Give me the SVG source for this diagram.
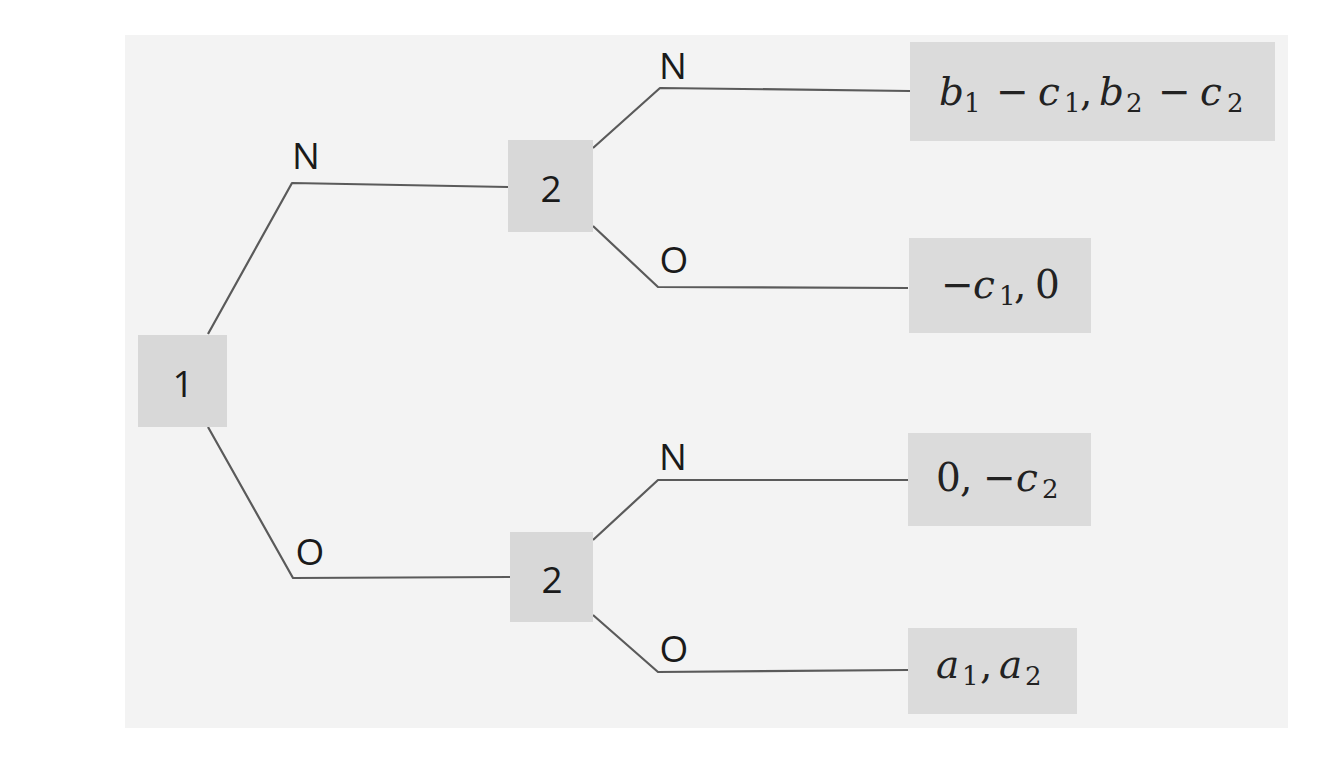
<svg xmlns="http://www.w3.org/2000/svg" width="1334" height="761" viewBox="0 0 1334 761">
<style>
.paper{fill:#f3f3f3}
.node{fill:#d8d8d8}
.pay{fill:#dbdbdb}
.edge{fill:none;stroke:#5a5a5a;stroke-width:2.2;stroke-linejoin:round}
.lbl{font-family:"Open Sans","Noto Sans",sans-serif;font-size:37px;fill:#1a1a1a;text-anchor:middle}
.math{font-family:"DejaVu Serif","Liberation Serif",serif;font-size:39px;fill:#222222}
.v{font-style:italic}
.s{font-size:26px}
</style>
<rect width="1334" height="761" fill="#ffffff"/>
<rect class="paper" x="125" y="35" width="1163" height="693"/>
<g id="connectors">
<polyline class="edge" points="208,334 292,183 508,187"/>
<polyline class="edge" points="208,427 293,578 510,577"/>
<polyline class="edge" points="593,148 660,88 910,91"/>
<polyline class="edge" points="593,226 658,287 908,288"/>
<polyline class="edge" points="593,540 658,480 908,480"/>
<polyline class="edge" points="593,615 658,672 908,670"/>
</g>
<g id="edge-labels">
<text class="lbl" x="306" y="169">N</text>
<text class="lbl" x="310" y="565">O</text>
<text class="lbl" x="673" y="79">N</text>
<text class="lbl" x="674" y="273">O</text>
<text class="lbl" x="673" y="470">N</text>
<text class="lbl" x="674" y="662">O</text>
</g>
<g id="node-1">
<rect class="node" x="138" y="335" width="89" height="92"/>
<text class="lbl" x="183" y="397">1</text>
</g>
<g id="node-2-top">
<rect class="node" x="508" y="140" width="85" height="92"/>
<text class="lbl" x="551" y="202">2</text>
</g>
<g id="node-2-bottom">
<rect class="node" x="510" y="532" width="83" height="90"/>
<text class="lbl" x="552" y="593">2</text>
</g>
<g id="payoff-NN">
<rect class="pay" x="910" y="42" width="365" height="99"/>
<text class="math" y="105"><tspan class="v" x="939">b</tspan><tspan class="s" x="964" y="112">1</tspan><tspan x="996" y="105">−</tspan><tspan class="v" x="1038">c</tspan><tspan class="s" x="1064" y="112">1</tspan><tspan x="1080" y="105">,</tspan><tspan class="v" x="1099">b</tspan><tspan class="s" x="1126" y="112">2</tspan><tspan x="1158" y="105">−</tspan><tspan class="v" x="1200">c</tspan><tspan class="s" x="1227" y="112">2</tspan></text>
</g>
<g id="payoff-NO">
<rect class="pay" x="909" y="238" width="182" height="95"/>
<text class="math" y="298"><tspan x="941">−</tspan><tspan class="v" x="973">c</tspan><tspan class="s" x="999" y="305">1</tspan><tspan x="1014" y="298">,</tspan><tspan x="1035">0</tspan></text>
</g>
<g id="payoff-ON">
<rect class="pay" x="908" y="433" width="183" height="93"/>
<text class="math" y="491"><tspan x="936">0</tspan><tspan x="960">,</tspan><tspan x="983">−</tspan><tspan class="v" x="1016">c</tspan><tspan class="s" x="1042" y="498">2</tspan></text>
</g>
<g id="payoff-OO">
<rect class="pay" x="908" y="628" width="169" height="86"/>
<text class="math" y="678"><tspan class="v" x="936">a</tspan><tspan class="s" x="962" y="685">1</tspan><tspan x="980" y="678">,</tspan><tspan class="v" x="999">a</tspan><tspan class="s" x="1025" y="685">2</tspan></text>
</g>
</svg>
